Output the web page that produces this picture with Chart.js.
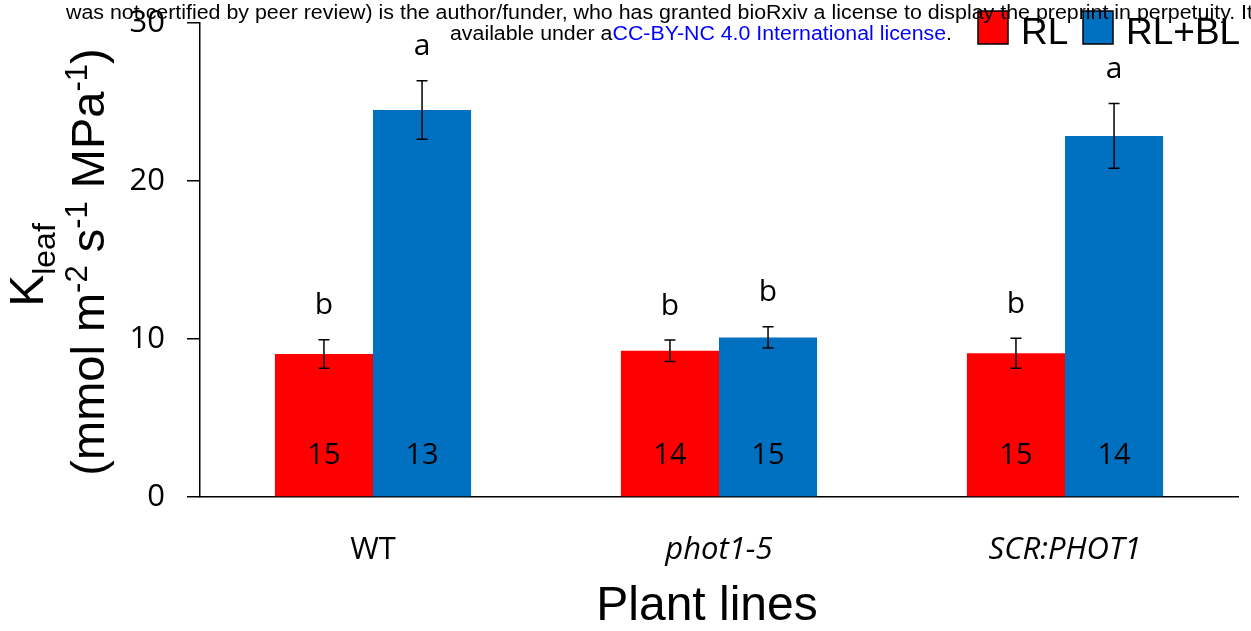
<!DOCTYPE html>
<html>
<head>
<meta charset="utf-8">
<script src="https://cdn.jsdelivr.net/npm/chart.js@4/dist/chart.umd.min.js"></script>
<style>
  html, body { margin: 0; padding: 0; background: #fff; }
</style>
</head>
<body>
<canvas id="myChart" width="1251" height="631"></canvas>
<script>
// data
const categories = ['WT', 'phot1-5', 'SCR:PHOT1'];
const italicCats = [false, true, true];
const seriesNames = ['RL', 'RL+BL'];
const rlMeans = [9.05, 9.25, 9.1];
const rlErr = [0.9, 0.68, 0.95];
const blMeans = [24.5, 10.1, 22.85];
const blErr = [1.85, 0.67, 2.05];
const rlLetters = ['b', 'b', 'b'];
const blLetters = ['a', 'b', 'a'];
const rlN = ['15', '14', '15'];
const blN = ['13', '15', '14'];
const yTicks = [0, 10, 20, 30];

const RED = '#ff0000';
const BLUE = '#0070c0';
const SANS = '"Liberation Sans", Arial, sans-serif';
const CAL = '"Open Sans", "Noto Sans", sans-serif';

const errs = [rlErr, blErr];
const letters = [rlLetters, blLetters];
const counts = [rlN, blN];

const extras = {
  id: 'extras',
  afterDatasetsDraw(chart) {
    const ctx = chart.ctx;
    const y = chart.scales.y;
    ctx.save();
    chart.data.datasets.forEach((ds, di) => {
      const meta = chart.getDatasetMeta(di);
      meta.data.forEach((bar, i) => {
        const v = ds.data[i];
        const e = errs[di][i];
        const yt = y.getPixelForValue(v + e);
        const yb = y.getPixelForValue(v - e);
        ctx.strokeStyle = '#000';
        ctx.lineWidth = 1.5;
        ctx.beginPath();
        ctx.moveTo(bar.x, yt); ctx.lineTo(bar.x, yb);
        ctx.moveTo(bar.x - 5.5, yt); ctx.lineTo(bar.x + 5.5, yt);
        ctx.moveTo(bar.x - 5.5, yb); ctx.lineTo(bar.x + 5.5, yb);
        ctx.stroke();
        ctx.fillStyle = '#000';
        ctx.textAlign = 'center';
        ctx.textBaseline = 'middle';
        ctx.font = '30px ' + CAL;
        ctx.fillText(letters[di][i], bar.x, yt - 34);
        ctx.font = '29px ' + CAL;
        ctx.fillText(counts[di][i], bar.x, y.getPixelForValue(0) - 41);
      });
    });
    ctx.restore();
  },
  afterDraw(chart) {
    const ctx = chart.ctx;
    ctx.save();
    ctx.fillStyle = '#000';

    // y axis title, rotated
    ctx.save();
    ctx.rotate(-Math.PI / 2);
    ctx.textBaseline = 'alphabetic';
    ctx.textAlign = 'left';
    ctx.font = '48px ' + SANS;
    const kw = ctx.measureText('K').width;
    ctx.font = '32px ' + SANS;
    const lw = ctx.measureText('leaf').width;
    let sx = -265 - (kw + lw) / 2;
    ctx.font = '48px ' + SANS;
    ctx.fillText('K', sx, 43);
    ctx.font = '32px ' + SANS;
    ctx.fillText('leaf', sx + kw, 55);
    const parts = [['(mmol m', 0], ['-2', 1], [' s', 0], ['-1', 1], [' MPa', 0], ['-1', 1], [')', 0]];
    let total = 0;
    parts.forEach(p => {
      ctx.font = (p[1] ? '31px ' : '47px ') + SANS;
      total += ctx.measureText(p[0]).width;
    });
    sx = -262 - total / 2;
    parts.forEach(p => {
      ctx.font = (p[1] ? '31px ' : '47px ') + SANS;
      ctx.fillText(p[0], sx, p[1] ? 87 : 104);
      sx += ctx.measureText(p[0]).width;
    });
    ctx.restore();

    // x axis title
    ctx.font = '48px ' + SANS;
    ctx.textAlign = 'center';
    ctx.textBaseline = 'alphabetic';
    ctx.fillText('Plant lines', 707, 620);

    // legend
    const boxes = [[978, RED, 1021], [1083, BLUE, 1126]];
    boxes.forEach((b, i) => {
      ctx.fillStyle = b[1];
      ctx.fillRect(b[0], 11, 30, 33);
      ctx.strokeStyle = '#000';
      ctx.lineWidth = 1.5;
      ctx.strokeRect(b[0], 11, 30, 33);
      ctx.fillStyle = '#000';
      ctx.font = '37px ' + SANS;
      ctx.textAlign = 'left';
      ctx.fillText(seriesNames[i], b[2], 44);
    });

    // preprint header
    ctx.font = '20px ' + SANS;
    ctx.textAlign = 'left';
    const l1 = 'was not certified by peer review) is the author/funder, who has granted bioRxiv a license to display the preprint in perpetuity. It';
    const w1 = ctx.measureText(l1).width;
    ctx.save();
    ctx.translate(66, 19);
    ctx.scale(1187 / w1, 1);
    ctx.fillText(l1, 0, 0);
    ctx.restore();
    const a = 'available under a', b = 'CC-BY-NC 4.0 International license', c = '.';
    const wa = ctx.measureText(a).width, wb = ctx.measureText(b).width, wc = ctx.measureText(c).width;
    const k = 502 / (wa + wb + wc);
    ctx.save();
    ctx.translate(450, 40);
    ctx.scale(k, 1);
    ctx.fillStyle = '#000';
    ctx.fillText(a, 0, 0);
    ctx.fillStyle = '#0000ff';
    ctx.fillText(b, wa, 0);
    ctx.fillStyle = '#000';
    ctx.fillText(c, wa + wb, 0);
    ctx.restore();

    ctx.restore();
  }
};

const ctx = document.getElementById('myChart').getContext('2d');
const myChart = new Chart(ctx, {
  type: 'bar',
  data: {
    labels: categories,
    datasets: [
      { label: seriesNames[0], data: rlMeans, backgroundColor: RED, borderWidth: 0,
        categoryPercentage: 0.567, barPercentage: 1 },
      { label: seriesNames[1], data: blMeans, backgroundColor: BLUE, borderWidth: 0,
        categoryPercentage: 0.567, barPercentage: 1 }
    ]
  },
  options: {
    responsive: false,
    animation: false,
    layout: { padding: { top: 23, right: 13, left: 0, bottom: 0 } },
    plugins: { legend: { display: false }, tooltip: { enabled: false }, title: { display: false } },
    scales: {
      x: {
        grid: { display: false, drawTicks: false },
        border: { display: true, color: '#000', width: 1.5 },
        ticks: {
          color: '#000',
          padding: 35,
          font: c => ({ family: CAL, size: 31, style: italicCats[c.index] ? 'italic' : 'normal' })
        },
        afterFit: s => { s.height = 134; }
      },
      y: {
        min: 0,
        max: 30,
        afterBuildTicks: s => { s.ticks = yTicks.map(v => ({ value: v })); },
        grid: { display: true, drawOnChartArea: false, drawTicks: true, tickLength: 13, color: '#000', lineWidth: 1.5 },
        border: { display: true, color: '#000', width: 1.5 },
        // tiny lineHeight keeps the label overhang from pushing the chart area down
        ticks: { color: '#000', padding: 22, font: { family: CAL, size: 31, lineHeight: 0.05 } },
        afterFit: s => { s.width = 200; }
      }
    }
  },
  plugins: [extras]
});
</script>
</body>
</html>
